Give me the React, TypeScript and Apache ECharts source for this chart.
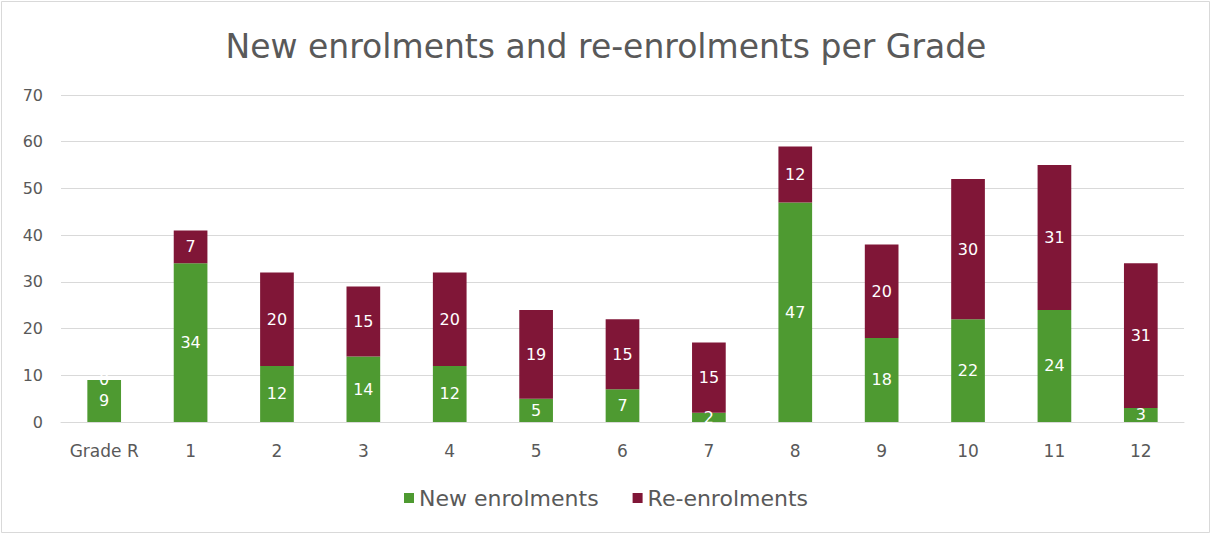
import React, { useEffect, useRef } from "react";
import * as echarts from "echarts";

const categories = ["Grade R", "1", "2", "3", "4", "5", "6", "7", "8", "9", "10", "11", "12"];
const newEnrolments = [9, 34, 12, 14, 12, 5, 7, 2, 47, 18, 22, 24, 3];
const reEnrolments = [0, 7, 20, 15, 20, 19, 15, 15, 12, 20, 30, 31, 31];
const yTicks = [0, 10, 20, 30, 40, 50, 60, 70];

const FONT = "'DejaVu Sans', sans-serif";
const GREY = "#595959";

export default function App() {
  const ref = useRef<HTMLDivElement>(null);
  useEffect(() => {
    document.body.style.margin = "0";
    if (!ref.current) return;
    const chart = echarts.init(ref.current, null, { renderer: "svg" });
    const label = {
      show: true,
      position: "inside",
      color: "#ffffff",
      fontSize: 16,
      fontFamily: FONT,
    };
    chart.setOption({
      animation: false,
      backgroundColor: "#ffffff",
      title: {
        text: "New enrolments and re-enrolments per Grade",
        left: "center",
        top: 25,
        textStyle: { color: GREY, fontSize: 33, fontWeight: "normal", fontFamily: FONT },
      },
      graphic: [
        {
          type: "rect",
          shape: { x: 1.5, y: 1.5, width: 1208, height: 531 },
          style: { fill: "none", stroke: "#d9d9d9", lineWidth: 1 },
          silent: true,
        },
      ],
      legend: {
        bottom: 21,
        left: "center",
        itemWidth: 10,
        itemHeight: 10,
        itemGap: 34,
        icon: "rect",
        textStyle: { color: GREY, fontSize: 22, fontFamily: FONT },
        data: ["New enrolments", "Re-enrolments"],
      },
      grid: { left: 61, right: 28, top: 95, bottom: 113 },
      xAxis: {
        type: "category",
        data: categories,
        axisTick: { show: false },
        axisLine: { lineStyle: { color: "#d9d9d9" } },
        axisLabel: { color: GREY, fontSize: 17, fontFamily: FONT, margin: 20, interval: 0 },
      },
      yAxis: {
        type: "value",
        min: yTicks[0],
        max: yTicks[yTicks.length - 1],
        interval: 10,
        axisLine: { show: false },
        axisTick: { show: false },
        splitLine: { lineStyle: { color: "#d9d9d9" } },
        axisLabel: { color: GREY, fontSize: 16, fontFamily: FONT, margin: 18 },
      },
      series: [
        {
          name: "New enrolments",
          type: "bar",
          stack: "total",
          data: newEnrolments,
          barWidth: "39%",
          itemStyle: { color: "#4E9A31" },
          label,
        },
        {
          name: "Re-enrolments",
          type: "bar",
          stack: "total",
          data: reEnrolments,
          barWidth: "39%",
          itemStyle: { color: "#801637" },
          label,
        },
      ],
    });
    return () => chart.dispose();
  }, []);
  return <div ref={ref} style={{ width: 1212, height: 535 }} />;
}
